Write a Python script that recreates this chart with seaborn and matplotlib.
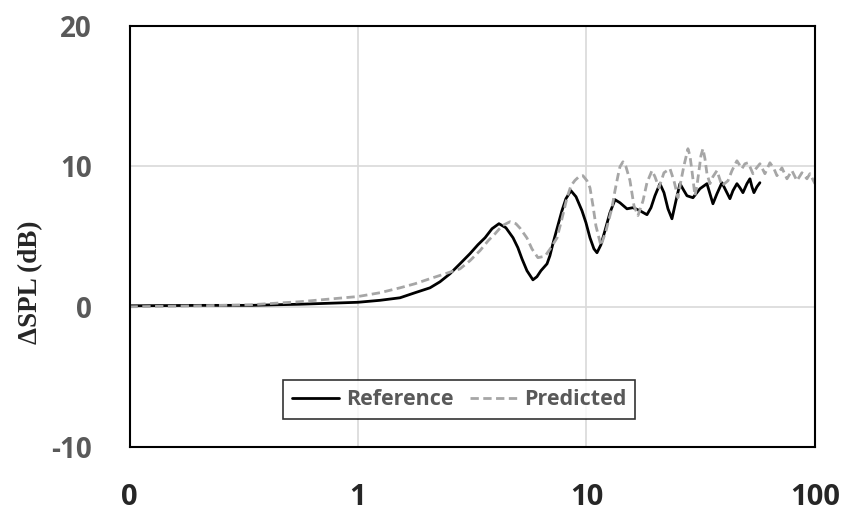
import matplotlib
matplotlib.use("Agg")
import matplotlib.pyplot as plt
import seaborn as sns
import pandas as pd

# frequency (kHz) and delta SPL (dB)
reference_freq = [0.1, 0.2035, 0.337, 0.557, 1.0, 1.248, 1.527, 1.776, 2.066, 2.285,
                  2.527, 2.795, 3.09, 3.35, 3.60, 3.86, 4.14, 4.44, 4.77, 5.01,
                  5.22, 5.49, 5.83, 6.07, 6.32, 6.72, 6.92, 7.13, 7.43, 7.81,
                  8.13, 8.55, 9.00, 9.56, 9.95, 10.36, 10.78, 11.12, 11.57, 12.05,
                  12.67, 13.33, 14.02, 15.04, 15.98, 17.15, 18.40, 19.16, 19.94, 20.97,
                  21.84, 22.74, 23.67, 24.65, 25.66, 26.72, 27.54, 29.25, 31.39, 33.68,
                  34.72, 35.78, 37.25, 39.17, 40.78, 42.46, 43.77, 45.56, 46.96, 48.41,
                  50.40, 51.94, 53.00, 54.08, 55.74, 57.44]
reference_dspl = [0.07, 0.1, 0.1, 0.18, 0.32, 0.46, 0.64, 1.0, 1.35, 1.78,
                  2.35, 3.06, 3.78, 4.42, 4.92, 5.56, 5.92, 5.63, 4.92, 4.21,
                  3.42, 2.57, 1.92, 2.14, 2.57, 3.06, 3.64, 4.49, 5.56, 6.84,
                  7.70, 8.27, 7.84, 6.84, 5.99, 4.92, 4.13, 3.85, 4.42, 5.42,
                  6.70, 7.63, 7.41, 6.98, 7.06, 6.84, 6.56, 7.06, 7.91, 8.77,
                  8.13, 6.98, 6.27, 7.56, 8.77, 8.27, 7.91, 7.77, 8.41, 8.77,
                  8.05, 7.34, 8.05, 8.84, 8.27, 7.70, 8.27, 8.77, 8.48, 8.13,
                  8.77, 9.12, 8.55, 8.13, 8.55, 8.84]

predicted_freq = [0.1, 0.2035, 0.337, 0.557, 1.0, 1.248, 1.527, 1.776, 2.066, 2.403,
                  2.795, 3.09, 3.42, 3.71, 3.98, 4.27, 4.63, 4.91, 5.12, 5.49,
                  5.77, 6.13, 6.58, 6.92, 7.43, 7.81, 8.22, 8.55, 8.90, 9.27,
                  9.65, 10.05, 10.36, 10.68, 11.00, 11.57, 12.17, 12.93, 13.33, 13.74,
                  14.02, 14.45, 14.89, 15.50, 16.14, 16.81, 17.68, 18.40, 19.35, 19.94,
                  20.76, 21.84, 23.20, 24.15, 25.15, 25.92, 26.71, 27.81, 28.38, 28.95,
                  29.85, 30.45, 31.08, 31.70, 32.35, 33.01, 33.68, 34.71, 35.78, 37.25,
                  38.01, 39.17, 41.63, 43.34, 45.56, 47.92, 49.39, 50.91, 51.94, 53.55,
                  55.19, 57.44, 60.41, 63.54, 66.16, 68.19, 71.71, 75.42, 79.30, 83.42,
                  87.73, 92.26, 95.08, 100.0]
predicted_dspl = [0.0, 0.07, 0.14, 0.36, 0.73, 1.0, 1.35, 1.64, 2.0, 2.35,
                  2.7, 3.28, 4.0, 4.7, 5.2, 5.77, 6.06, 5.92, 5.6, 4.9,
                  4.13, 3.5, 3.6, 4.1, 4.9, 6.27, 7.77, 8.62, 9.0, 9.27,
                  9.34, 8.98, 8.48, 7.2, 5.77, 4.35, 5.4, 7.05, 8.27, 9.34,
                  9.98, 10.33, 9.98, 9.0, 7.2, 6.5, 7.55, 8.84, 9.7, 9.27,
                  8.48, 9.55, 9.84, 8.98, 7.77, 8.98, 10.05, 11.26, 10.76, 9.7,
                  7.91, 8.62, 9.7, 10.76, 11.26, 10.55, 9.48, 8.77, 9.27, 9.7,
                  9.27, 8.62, 8.98, 9.7, 10.4, 9.84, 10.19, 10.26, 9.98, 9.48,
                  9.84, 10.19, 9.48, 10.26, 9.84, 9.34, 9.9, 9.12, 9.7, 8.98,
                  9.55, 9.12, 9.48, 8.77]

x_ticks = [0.1, 1, 10, 100]
x_tick_labels = ["0", "1", "10", "100"]
y_ticks = [-10, 0, 10, 20]

reference_df = pd.DataFrame({"freq": reference_freq, "dspl": reference_dspl})
predicted_df = pd.DataFrame({"freq": predicted_freq, "dspl": predicted_dspl})

sns.set_style("white")
plt.rcParams["font.family"] = ["Open Sans", "DejaVu Sans"]
plt.rcParams["axes.unicode_minus"] = False

fig = plt.figure(figsize=(8.41, 5.11), dpi=100)
ax = fig.add_axes([0.154, 0.125, 0.815, 0.824])

sns.lineplot(data=reference_df, x="freq", y="dspl", color="black", linewidth=2.0,
             estimator=None, label="Reference", ax=ax)
sns.lineplot(data=predicted_df, x="freq", y="dspl", color="#a6a6a6", linewidth=2.0,
             estimator=None, label="Predicted", ax=ax)
ax.lines[1].set_dashes([3, 1.6])
for line in ax.lines:
    line.set_solid_joinstyle("round")
    line.set_dash_joinstyle("round")

ax.set_xscale("log")
ax.set_xlim(0.1, 100)
ax.set_ylim(-10, 20)
ax.set_xticks(x_ticks)
ax.set_xticklabels(x_tick_labels)
ax.minorticks_off()
ax.set_yticks(y_ticks)
ax.grid(True, color="#d9d9d9", linewidth=1.2)
ax.set_axisbelow(True)
ax.tick_params(axis="both", length=0)
ax.tick_params(axis="x", pad=26, labelsize=21)
ax.tick_params(axis="y", pad=27, labelsize=20, labelcolor="#595959")
for label in ax.get_xticklabels() + ax.get_yticklabels():
    label.set_fontweight("bold")
for spine in ax.spines.values():
    spine.set_color("black")
    spine.set_linewidth(1.5)

ax.set_xlabel("")
ax.set_ylabel("")
fig.text(31 / 841, 1 - 282 / 511, "ΔSPL (dB)", rotation=90, ha="center", va="center",
         fontsize=19.5, fontweight="bold", family=["Liberation Serif", "DejaVu Serif"])

legend = ax.legend(loc="center", bbox_to_anchor=(0.481, 0.113), ncol=2, frameon=True,
                   fancybox=False, handlelength=2.2, columnspacing=0.8, handletextpad=0.3,
                   borderpad=0.4, prop={"weight": "bold", "size": 15.5})
legend.get_frame().set_edgecolor("black")
legend.get_frame().set_linewidth(1.2)
for text in legend.get_texts():
    text.set_color("#595959")

fig.savefig("out.png", dpi=100)
plt.close(fig)
